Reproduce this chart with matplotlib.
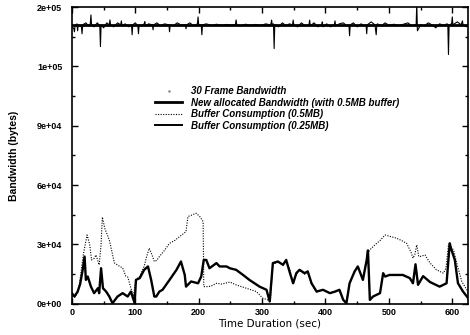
import matplotlib
matplotlib.use("Agg")
import matplotlib.pyplot as plt
from matplotlib.lines import Line2D
from matplotlib.ticker import MultipleLocator, FormatStrFormatter

# 30 frame bandwidth (kB), noisy line near the top
frame_t = [0, 3, 4, 5, 8, 9, 10, 15, 16, 17,
           22, 26, 29, 30, 31, 35, 40, 44, 45, 46,
           50, 55, 59, 60, 61, 66, 72, 77, 78, 79,
           84, 90, 94, 95, 96, 100, 104, 105, 106, 110,
           114, 115, 116, 121, 127, 128, 129, 134, 140, 146,
           153, 154, 155, 160, 166, 172, 179, 180, 181, 186,
           192, 198, 199, 200, 204, 205, 206, 212, 220, 228,
           236, 244, 252, 258, 259, 260, 266, 274, 282, 290,
           298, 306, 312, 314, 315, 316, 318, 319, 320, 326,
           332, 338, 343, 348, 349, 350, 356, 362, 368, 374,
           375, 376, 382, 388, 394, 395, 396, 402, 408, 414,
           415, 416, 422, 428, 434, 437, 438, 439, 444, 450,
           456, 462, 464, 465, 466, 472, 478, 480, 481, 482,
           488, 494, 500, 508, 516, 524, 530, 536, 541, 543,
           544, 545, 550, 556, 562, 568, 574, 580, 586, 592,
           593, 594, 595, 599, 600, 601, 608, 614, 616, 617,
           622, 625]
frame_kb = [140.5, 139, 137.5, 140.5, 141.5, 138, 141, 140, 136.5, 141,
            142, 140.5, 141.5, 146, 141, 140, 142, 140.5, 130, 141,
            139.5, 142, 141, 143.5, 141, 140, 142, 141, 143, 140.5,
            141.5, 140, 141, 136, 141, 142, 140.5, 136.5, 141, 140.5,
            141.5, 142.6, 140.5, 141.5, 141, 138.5, 141, 142, 140.5, 141.5,
            141, 137.5, 141, 140.5, 142, 141, 141, 139, 141, 142,
            140.5, 141.5, 145, 141, 141, 136, 141, 141.5, 140.7, 141.3,
            140.8, 141.2, 140.9, 141.2, 143.5, 141, 140.6, 141.3, 140.8, 141.2,
            140.7, 141.5, 141, 141.5, 143.4, 141, 141.5, 129, 141, 140,
            142, 140.5, 141.5, 141, 143.4, 141, 140, 142, 140.5, 141,
            143.4, 140.5, 142, 140, 141, 142.5, 140, 141.5, 140, 141,
            143, 140.5, 141.5, 142, 140.5, 141, 135.5, 141, 142, 140,
            141.5, 140.5, 141, 136.5, 141, 142.5, 141, 136, 141, 141.5,
            140.5, 142, 140.8, 141.3, 140.7, 141.4, 142, 140.5, 141, 141,
            152, 138, 141, 140.5, 142, 141, 139.5, 141.5, 140.8, 141.5,
            141, 126, 141, 141.5, 145, 141, 142.5, 141, 143, 141,
            140, 141.5]

# new allocated bandwidth with 0.5MB buffer (kB)
alloc_t = [0, 625]
alloc_kb = [141, 141]

# buffer consumption, 0.5MB buffer (kB)
buf05_t = [0, 5, 10, 14, 18, 24, 28, 31, 35, 38,
           43, 46, 48, 52, 59, 67, 75, 80, 85, 88,
           94, 97, 101, 107, 114, 118, 122, 126, 130, 134,
           138, 146, 154, 162, 170, 180, 183, 190, 196, 202,
           207, 208, 214, 220, 228, 236, 249, 259, 275, 291,
           301, 309, 313, 317, 325, 333, 338, 344, 349, 354,
           359, 367, 372, 378, 386, 396, 407, 415, 422, 428,
           433, 438, 446, 451, 459, 465, 467, 470, 478, 486,
           494, 503, 512, 520, 528, 535, 538, 541, 544, 547,
           549, 557, 565, 575, 586, 590, 594, 602, 607, 615,
           623, 625]
buf05_kb = [4, 3.5, 6, 15, 25, 34.8, 30, 22.2, 23, 24.7,
            19.7, 30, 43.8, 38, 32.3, 20.7, 19, 18.2, 14, 13.6,
            7, 4, 12.1, 14, 19, 24, 28.1, 25, 21.4, 22,
            23.9, 27, 30.6, 32, 34, 36.5, 44.1, 45, 45.8, 44,
            41.6, 8.7, 8.7, 9, 10.4, 10, 11, 9.6, 7.9, 6.2,
            2.9, 2, 1, 20, 21, 20, 21.5, 17.2, 10, 15,
            17, 15, 16, 10, 6, 7, 5.4, 6, 7, 2,
            0.3, 10.4, 16.4, 18.9, 12.1, 22.2, 25.6, 27.3, 29.8, 32,
            34.8, 34, 33.2, 32, 30.6, 26, 23.1, 25, 29.8, 24,
            23.9, 24.7, 20.6, 17.2, 15.5, 18, 29.8, 27.3, 20.6, 11.3,
            7, 5]

# buffer consumption, 0.25MB buffer (kB)
buf025_t = [0, 4, 9, 13, 17, 20, 22, 25, 30, 35,
            41, 43, 46, 49, 54, 59, 64, 72, 80, 88,
            93, 99, 101, 107, 114, 120, 125, 130, 133, 138,
            143, 154, 165, 172, 178, 180, 188, 199, 204, 208,
            212, 217, 228, 233, 244, 249, 259, 270, 280, 296,
            307, 312, 317, 325, 333, 338, 344, 349, 354, 359,
            367, 372, 378, 386, 396, 407, 415, 422, 428, 433,
            438, 446, 451, 459, 465, 467, 470, 475, 486, 491,
            494, 501, 522, 533, 538, 542, 546, 554, 565, 580,
            591, 596, 598, 604, 609, 617, 625]
buf025_kb = [5.4, 3.7, 6.2, 10, 17.2, 23.9, 12.1, 13.8, 8.7, 5.4,
             7.9, 5.4, 18, 7.9, 6.2, 3.7, 0.3, 3.7, 5.4, 3.7,
             6.2, 0.3, 12.1, 13, 17.2, 18.9, 12.1, 3.7, 3.7, 6.2,
             7.1, 12.1, 17.2, 21.4, 14.6, 8.7, 11.3, 10.4, 13.8, 22.2,
             22.2, 18, 20.6, 18.9, 18.9, 18, 17.2, 14.6, 12.1, 8.7,
             7.1, 1.2, 20.6, 21.4, 19.7, 22.2, 15.5, 10.4, 15.5, 17.2,
             15.5, 16.4, 10.4, 6.2, 7.1, 5.4, 6.2, 7.1, 2, 0.3,
             10.4, 16.4, 18.9, 12.1, 22.2, 27, 2, 3.7, 5.4, 15.5,
             13.8, 14.6, 14.6, 13, 10.4, 20, 9.6, 14, 11, 8.7,
             10.4, 30.6, 28, 22.2, 10.4, 6.2, 2.9]

y_ticks = [0, 30000, 60000, 90000, 120000, 150000]
x_ticks = [0, 100, 200, 300, 400, 500, 600]

fig = plt.figure(figsize=(4.7, 3.35), dpi=100)
ax = fig.add_axes([0.153, 0.093, 0.843, 0.886])

k = 1000
ax.plot(frame_t, [v * k for v in frame_kb], color="black", lw=0.8)
ax.plot(alloc_t, [v * k for v in alloc_kb], color="black", lw=2.0)
ax.plot(buf05_t, [v * k for v in buf05_kb], color="black", lw=0.8, ls=(0, (1, 1.3)))
ax.plot(buf025_t, [v * k for v in buf025_kb], color="black", lw=1.7)

ax.set_xlim(0, 625)
ax.set_ylim(0, 150000)
ax.set_xticks(x_ticks)
ax.set_yticks(y_ticks)
ax.xaxis.set_minor_locator(MultipleLocator(50))
ax.yaxis.set_minor_locator(MultipleLocator(15000))
ax.yaxis.set_major_formatter(FormatStrFormatter("%.0e"))

ax.tick_params(which="both", direction="in", top=True, right=True,
               width=1.0, labelsize=6.5)
ax.tick_params(which="major", length=4)
ax.tick_params(which="minor", length=2.5)
ax.tick_params(axis="y", pad=7)
ax.tick_params(axis="x", pad=3)
for lab in ax.get_xticklabels() + ax.get_yticklabels():
    lab.set_fontweight("bold")
    lab.set_family("Liberation Sans")
for s in ax.spines.values():
    s.set_linewidth(1.2)

ax.set_xlabel("Time Duration (sec)", fontsize=7.5, labelpad=1)
ax.set_ylabel("Bandwidth (bytes)", fontsize=7.5, fontweight="bold",
              family="Liberation Sans", labelpad=13)

handles = [
    Line2D([], [], ls="none", marker=".", ms=1.5, color="0.5"),
    Line2D([], [], color="black", lw=2.0),
    Line2D([], [], color="black", lw=0.8, ls=(0, (1, 1.3))),
    Line2D([], [], color="black", lw=1.4),
]
labels = ["30 Frame Bandwidth",
          "New allocated Bandwidth (with 0.5MB buffer)",
          "Buffer Consumption (0.5MB)",
          "Buffer Consumption (0.25MB)"]
ax.legend(handles, labels, loc="upper left", bbox_to_anchor=(0.21, 0.733),
          frameon=False, borderpad=0, borderaxespad=0, handlelength=2.8,
          handletextpad=0.9, labelspacing=0.15,
          prop={"family": "Liberation Sans", "weight": "bold",
                "style": "italic", "size": 7})

fig.savefig("out.png", dpi=100)
